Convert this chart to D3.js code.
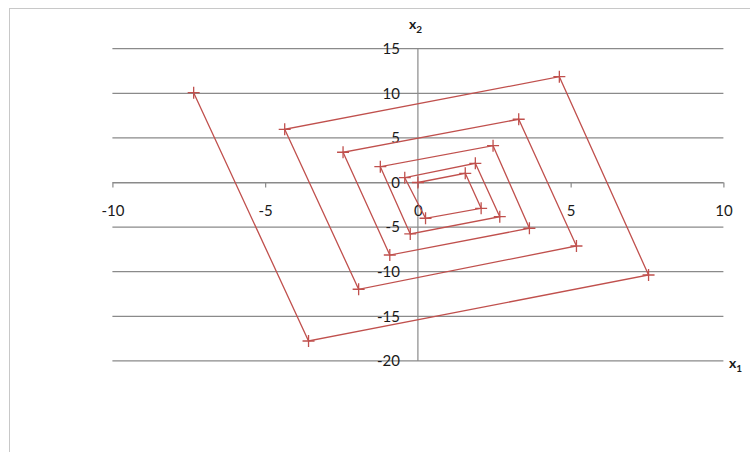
<!DOCTYPE html>
<html>
<head>
<meta charset="utf-8">
<script src="https://cdn.jsdelivr.net/npm/d3@7"></script>
<style>
  html, body { margin: 0; padding: 0; background: #fff; }
  svg { display: block; }
  text { font-family: Lato, "Open Sans", "Liberation Sans", sans-serif; fill: #1a1a1a; }
</style>
</head>
<body>
<svg id="chart" width="750" height="452"></svg>
<script>
// Spiral trajectory of the state (x1, x2), one point per step
const x1Values = [0, 1.55, 2.07, 0.25, -0.43, 1.88, 2.68, -0.25, -1.23, 2.46, 3.65, -0.92,
                  -2.45, 3.30, 5.19, -1.94, -4.36, 4.63, 7.55, -3.58, -7.34];
const x2Values = [0, 1.03, -2.89, -4.01, 0.54, 2.15, -3.83, -5.77, 1.77, 4.13, -5.13, -8.13,
                  3.39, 7.09, -7.12, -11.97, 5.96, 11.86, -10.37, -17.77, 10.07];
const xTicks = [-10, -5, 0, 5, 10];
const yTicks = [15, 10, 5, 0, -5, -10, -15, -20];

const points = x1Values.map((v, i) => ({ x1: v, x2: x2Values[i] }));

const svg = d3.select("#chart");
const x = d3.scaleLinear().domain([-10, 10]).range([112.4, 723.4]);
const y = d3.scaleLinear().domain([-20, 15]).range([360.9, 48.7]);

const axisGrey = "#8a8a8a";
const seriesRed = "#c0504d";
const plainNumber = d => String(d);   // keep ASCII hyphen for negatives

// chart area frame
svg.append("rect")
  .attr("x", 9.5).attr("y", 8.5)
  .attr("width", 800).attr("height", 500)
  .attr("fill", "none").attr("stroke", "#c8c8c8").attr("stroke-width", 1);

// horizontal gridlines
svg.append("g").selectAll("line").data(yTicks).join("line")
  .attr("x1", x(-10)).attr("x2", x(10))
  .attr("y1", d => y(d)).attr("y2", d => y(d))
  .attr("stroke", axisGrey).attr("stroke-width", 1.2);

// vertical axis line through x1 = 0
svg.append("line")
  .attr("x1", x(0)).attr("x2", x(0))
  .attr("y1", y(15)).attr("y2", y(-20))
  .attr("stroke", axisGrey).attr("stroke-width", 1.2);

// x1 axis through x2 = 0
const xAxis = svg.append("g")
  .attr("transform", `translate(0,${y(0)})`)
  .call(d3.axisBottom(x).tickValues(xTicks).tickFormat(plainNumber)
    .tickSize(5).tickPadding(18).tickSizeOuter(0));
xAxis.select(".domain").attr("stroke", axisGrey).attr("stroke-width", 1.2);
xAxis.selectAll(".tick line").attr("stroke", axisGrey).attr("stroke-width", 1.2);
xAxis.selectAll(".tick text")
  .attr("font-size", 15).attr("font-family", "Lato, 'Open Sans', sans-serif").attr("fill", "#1a1a1a");

// x2 axis labels
const yAxis = svg.append("g")
  .attr("transform", `translate(${x(0)},0)`)
  .call(d3.axisLeft(y).tickValues(yTicks).tickFormat(plainNumber).tickSize(0).tickPadding(18));
yAxis.select(".domain").remove();
yAxis.selectAll(".tick text")
  .attr("font-size", 15).attr("font-family", "Lato, 'Open Sans', sans-serif").attr("fill", "#1a1a1a");

// trajectory
const line = d3.line().x(d => x(d.x1)).y(d => y(d.x2));
svg.append("path")
  .datum(points)
  .attr("d", line)
  .attr("fill", "none")
  .attr("stroke", seriesRed)
  .attr("stroke-width", 1.3);

svg.append("g").selectAll("path").data(points).join("path")
  .attr("transform", d => `translate(${x(d.x1)},${y(d.x2)})`)
  .attr("d", "M-6,0H6M0,-6V6")
  .attr("stroke", seriesRed)
  .attr("stroke-width", 1.3);

// axis titles
function axisTitle(px, py, sub) {
  const t = svg.append("text")
    .attr("x", px).attr("y", py)
    .attr("font-size", 14).attr("font-weight", "bold");
  t.append("tspan").text("x");
  t.append("tspan").attr("dy", 4).attr("font-size", 10).text(sub);
}
axisTitle(409, 29, "2");
axisTitle(729, 368, "1");
</script>
</body>
</html>
